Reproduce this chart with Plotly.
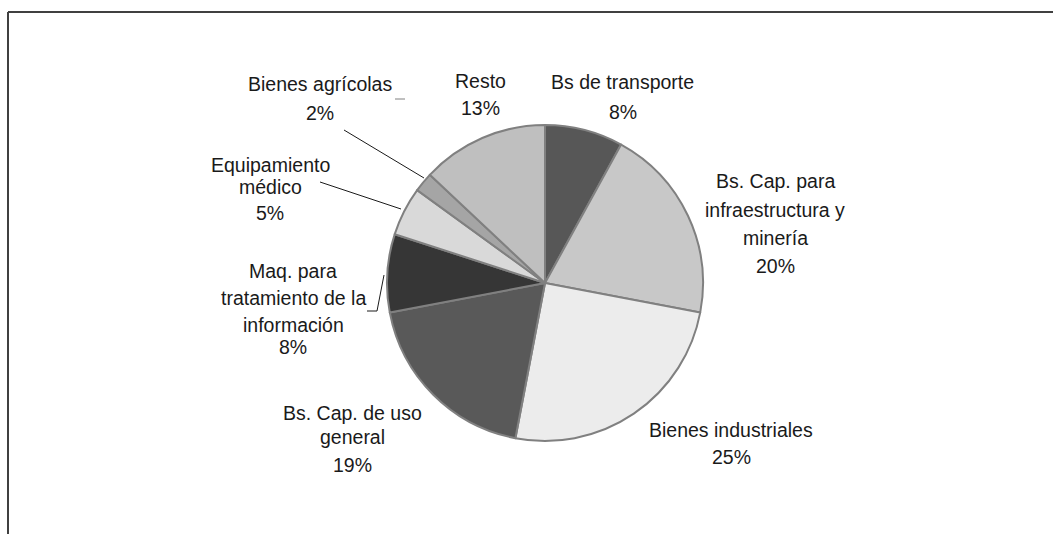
import plotly.graph_objects as go

categories = ["Bs de transporte", "Bs. Cap. para infraestructura y minería", "Bienes industriales",
              "Bs. Cap. de uso general", "Maq. para tratamiento de la información",
              "Equipamiento médico", "Bienes agrícolas", "Resto"]
values = [8, 20, 25, 19, 8, 5, 2, 13]
colors = ["#575757", "#c8c8c8", "#ececec", "#595959", "#363636", "#d9d9d9", "#a5a5a5", "#bfbfbf"]
label_lines = [
    ["Bs de transporte"],
    ["Bs. Cap. para", "infraestructura y", "minería"],
    ["Bienes industriales"],
    ["Bs. Cap. de uso", "general"],
    ["Maq. para", "tratamiento de la", "información"],
    ["Equipamiento", "médico"],
    ["Bienes agrícolas"],
    ["Resto"],
]

W, H = 1053, 534
FONT = "Liberation Sans, Arial, sans-serif"
FS = 19.5

def px(x, y):
    return x / W, 1 - y / H

cx, cy, r = 545, 283, 158
x0, y0 = px(cx - r, cy + r)
x1, y1 = px(cx + r, cy - r)

fig = go.Figure(go.Pie(
    labels=categories, values=values, sort=False, direction="clockwise", rotation=0,
    marker=dict(colors=colors, line=dict(color="#808080", width=2)),
    textinfo="none", hoverinfo="label+percent", showlegend=False,
    domain=dict(x=[x0, x1], y=[y0, y1]),
))

# label layout: x centre and y centre of each text line (pixels); last line is the percentage
label_x = [623, 775, 731, 352, 293, 270, 320, 480]
label_y = [
    [81, 111],
    [180, 208.5, 236.5, 265],
    [428.5, 456],
    [411.5, 436, 463.5],
    [270, 296.5, 323.5, 345.5],
    [164.5, 185.5, 211.5],
    [83, 111.5],
    [80, 106.5],
]

annotations = []
for lines, v, xc, ys in zip(label_lines, values, label_x, label_y):
    for txt, yc in zip(lines + [f"{v}%"], ys):
        xx, yy = px(xc, yc + 1)
        annotations.append(dict(x=xx, y=yy, xref="paper", yref="paper", text=txt, showarrow=False,
                                xanchor="center", yanchor="middle",
                                font=dict(family=FONT, size=FS, color="#1a1a1a")))

def seg(xa, ya, xb, yb, color="#1a1a1a", width=1):
    a = px(xa, ya); b = px(xb, yb)
    return dict(type="line", xref="paper", yref="paper", x0=a[0], y0=a[1], x1=b[0], y1=b[1],
                line=dict(color=color, width=width))

shapes = [
    seg(8, 12, 8, 534, "#404040", 2),
    seg(8, 12, 1053, 12, "#404040", 2),
    seg(344, 130, 424, 178),
    seg(320, 182, 401, 209),
    seg(367, 311, 377, 311),
    seg(377, 311, 384, 275),
    seg(395, 99, 405, 99, "#808080", 1),
]

fig.update_layout(
    width=W, height=H, margin=dict(l=0, r=0, t=0, b=0),
    paper_bgcolor="white", plot_bgcolor="white",
    annotations=annotations, shapes=shapes,
)
fig.write_html("out.html", config={"displayModeBar": False},
               post_script="document.body.style.margin='0';document.body.style.overflow='hidden';")
